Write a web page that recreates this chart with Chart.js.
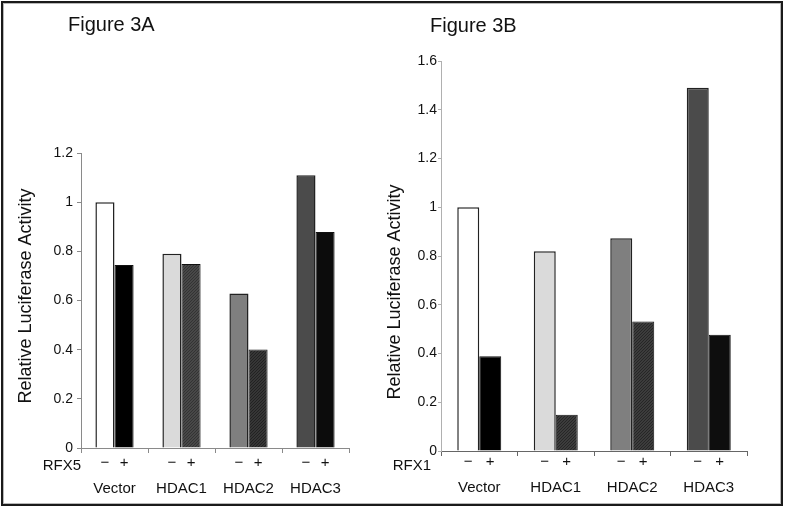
<!DOCTYPE html>
<html>
<head>
<meta charset="utf-8">
<script src="https://cdn.jsdelivr.net/npm/chart.js@4.4.1/dist/chart.umd.min.js"></script>
<style>
  html, body { margin: 0; padding: 0; background: #fff; }
  #wrap { position: relative; width: 786px; height: 509px; overflow: hidden; }
  #wrap canvas { position: absolute; left: 0; top: 0; }
  #frame {
    position: absolute; left: 1px; top: 1px; width: 782px; height: 505px;
    box-sizing: border-box; border: 2px solid #1a1a1a;
    box-shadow: inset 0 0 0 1px #b8b8b8; pointer-events: none;
  }
</style>
</head>
<body>
<div id="wrap">
  <canvas id="figA" width="786" height="509"></canvas>
  <canvas id="figB" width="786" height="509"></canvas>
  <div id="frame"></div>
</div>
<script>
// data
const groups = ["Vector", "HDAC1", "HDAC2", "HDAC3"];
const signs = ["\u2212", "+"];
const minusA = [1.0, 0.79, 0.628, 1.109];
const plusA = [0.744, 0.748, 0.401, 0.879];
const minusB = [1.0, 0.82, 0.873, 1.49];
const plusB = [0.389, 0.149, 0.531, 0.477];
const maxA = 1.2;
const maxB = 1.6;
const tickStep = 0.2;

const FONT = '"Liberation Sans", Arial, sans-serif';

function hatch(bg, fg) {
  const c = document.createElement("canvas");
  c.width = 3;
  c.height = 3;
  const g = c.getContext("2d");
  g.fillStyle = bg;
  g.fillRect(0, 0, 3, 3);
  g.fillStyle = fg;
  // one dark pixel per row, shifted -> fine diagonal texture
  g.fillRect(2, 0, 1, 1);
  g.fillRect(1, 1, 1, 1);
  g.fillRect(0, 2, 1, 1);
  return g.createPattern(c, "repeat");
}

const minusColors = ["#ffffff", "#dadada", "#7f7f7f", "#4b4b4b"];
const plusColorsA = ["#000000", hatch("#484848", "#333333"), hatch("#363636", "#222222"), "#0c0c0c"];
const plusColorsB = ["#000000", hatch("#3c3c3c", "#262626"), hatch("#3c3c3c", "#262626"), "#0e0e0e"];

// draws the figure title, side title, factor name and -/+ under each bar
const figureText = {
  id: "figureText",
  afterDraw(chart, args, opts) {
    const ctx = chart.ctx;
    const area = chart.chartArea;
    ctx.save();
    ctx.fillStyle = "#111";
    ctx.textBaseline = "middle";

    ctx.font = "20px " + FONT;
    ctx.textAlign = "left";
    ctx.fillText(opts.title, opts.titleX, opts.titleY);

    ctx.save();
    ctx.translate(opts.yTitleX, opts.yTitleY);
    ctx.rotate(-Math.PI / 2);
    ctx.font = "18px " + FONT;
    ctx.textAlign = "center";
    ctx.fillText(opts.yTitle, 0, 0);
    ctx.restore();

    ctx.font = "15px " + FONT;
    ctx.textAlign = "right";
    ctx.fillText(opts.factor, area.left + opts.factorDx, area.bottom + opts.factorDy);

    ctx.font = "15px " + FONT;
    ctx.textAlign = "center";
    chart.data.datasets.forEach((ds, i) => {
      chart.getDatasetMeta(i).data.forEach((bar) => {
        ctx.fillText(ds.label, bar.x, area.bottom + opts.signDy);
      });
    });
    ctx.restore();
  },
};

function makeChart(id, s) {
  return new Chart(document.getElementById(id), {
    type: "bar",
    data: {
      labels: groups,
      datasets: [
        {
          label: signs[0],
          data: s.minus,
          backgroundColor: minusColors,
          borderColor: "#222",
          borderWidth: 1.5,
        },
        {
          label: signs[1],
          data: s.plus,
          backgroundColor: s.plusColors,
          borderColor: "#111",
          borderWidth: 1,
        },
      ],
    },
    options: {
      responsive: false,
      animation: false,
      events: [],
      layout: { padding: s.padding },
      datasets: { bar: { categoryPercentage: s.catPct, barPercentage: 1.0 } },
      plugins: {
        legend: { display: false },
        tooltip: { enabled: false },
        figureText: s.text,
      },
      scales: {
        x: {
          grid: {
            drawOnChartArea: false,
            color: s.xColor,
            tickLength: 5,
          },
          border: { color: s.xColor, width: 1 },
          ticks: {
            color: "#111",
            font: { size: 15, family: FONT },
            padding: s.xPad,
            maxRotation: 0,
          },
          afterFit: (scale) => { scale.height = s.xHeight; },
        },
        y: {
          min: 0,
          max: s.max,
          grid: {
            drawOnChartArea: false,
            color: s.yColor,
            tickLength: s.yTick,
          },
          border: { color: s.yColor, width: 1 },
          ticks: {
            stepSize: tickStep,
            color: "#111",
            font: { size: 14, family: FONT },
            padding: s.yPad,
            callback: (v) => String(+v.toFixed(1)),
          },
          afterFit: (scale) => { scale.width = s.yWidth; },
        },
      },
    },
    plugins: [figureText],
  });
}

makeChart("figA", {
  minus: minusA,
  plus: plusA,
  plusColors: plusColorsA,
  max: maxA,
  catPct: 0.57,
  padding: { left: 0, right: 437, top: 153, bottom: 0 },
  xHeight: 61,
  xPad: 27,
  yWidth: 81,
  yTick: 4,
  yPad: 4,
  xColor: "#8a8a8a",
  yColor: "#8a8a8a",
  text: {
    title: "Figure 3A", titleX: 68, titleY: 25,
    yTitle: "Relative Luciferase Activity", yTitleX: 26, yTitleY: 296,
    factor: "RFX5", factorDx: 0, factorDy: 18,
    signDy: 15,
  },
});

makeChart("figB", {
  minus: minusB,
  plus: plusB,
  plusColors: plusColorsB,
  max: maxB,
  catPct: 0.575,
  padding: { left: 400, right: 39, top: 61, bottom: 0 },
  xHeight: 58,
  xPad: 23,
  yWidth: 41,
  yTick: 3,
  yPad: 1,
  xColor: "#666",
  yColor: "#b0b0b0",
  text: {
    title: "Figure 3B", titleX: 430, titleY: 26,
    yTitle: "Relative Luciferase Activity", yTitleX: 395, yTitleY: 292,
    factor: "RFX1", factorDx: -10, factorDy: 15,
    signDy: 11,
  },
});
</script>
</body>
</html>
